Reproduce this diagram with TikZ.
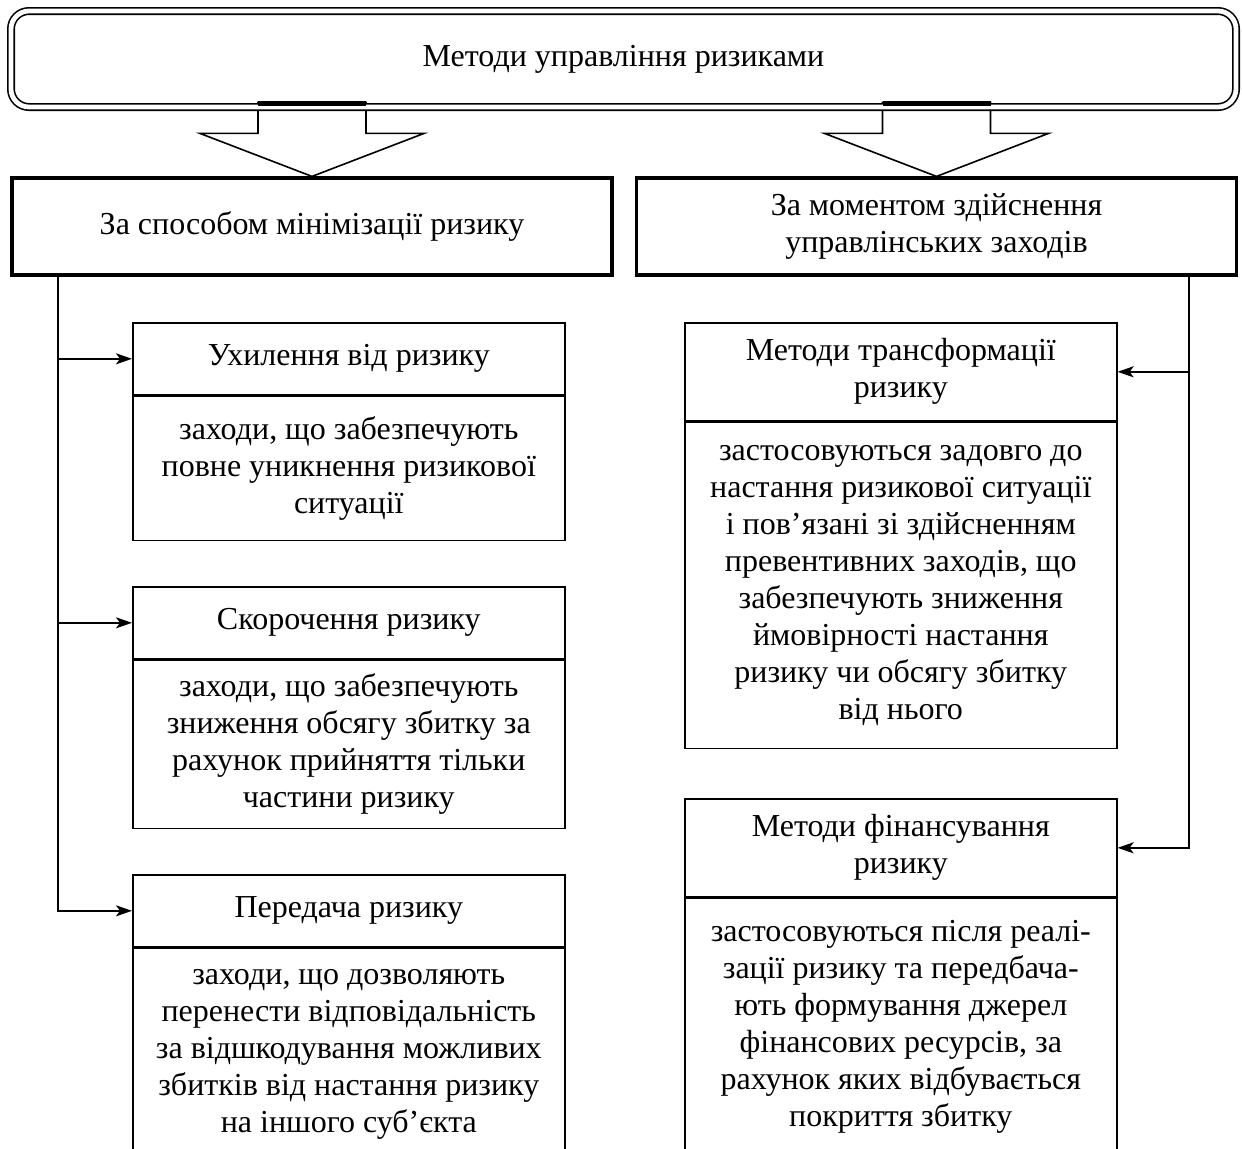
\documentclass[tikz,border=0pt]{standalone}
\usepackage{fontspec}
\setmainfont{Liberation Serif}
\usetikzlibrary{arrows.meta,calc}

\begin{document}
\begin{tikzpicture}[x=0.5pt,y=-0.5pt,
  font=\fontsize{16}{18.5}\selectfont,
  mainbox/.style={draw,double,double distance=2.4pt,line width=0.8pt,rounded corners=9pt,
                  minimum width=612.5pt,minimum height=48pt,inner sep=0pt},
  groupbox/.style={draw,line width=1.6pt,minimum width=300pt,minimum height=48.5pt,
                   align=center,inner sep=0pt},
  headbox/.style={draw,line width=0.8pt,minimum width=216pt,minimum height=#1,
                  align=center,inner sep=0pt,anchor=north west},
  bodybox/.style={draw,line width=0.8pt,text width=212pt,minimum height=#1,
                  align=flush center,inner xsep=2pt,inner ysep=0pt,anchor=north},
  blockarrow/.style={draw,fill=white,line width=0.8pt,line join=miter},
  link/.style={line width=1pt,-{Stealth[length=8pt,width=5.5pt,inset=2pt]}}
]
\useasboundingbox (0,0) rectangle (1242,1148);
\clip (0,0) rectangle (1242,1148);

\node[groupbox] (sposib) at (312,226.5) {За способом мінімізації ризику};
\node[groupbox] (moment) at (936.5,226.5) {За моментом здійснення\\управлінських заходів};

\draw[blockarrow] (sposib.north) -- ++(-112,-43) -- ++(58,0) -- ++(0,-31) -- ++(108,0)
                  -- ++(0,31) -- ++(58,0) -- cycle;
\draw[blockarrow] (moment.north) -- ++(-112,-43) -- ++(58,0) -- ++(0,-31) -- ++(108,0)
                  -- ++(0,31) -- ++(58,0) -- cycle;

\node[mainbox] (top) at (623.5,59) {Методи управління ризиками};
\fill ($(sposib.north)+(-54,-75)$) rectangle ++(108,5);
\fill ($(moment.north)+(-54,-75)$) rectangle ++(108,5);

\node[headbox=36pt] (uhyl) at (132,322) {Ухилення від ризику};
\node[bodybox=72pt] (uhylb) at (uhyl.south) {заходи, що забезпечують\\повне уникнення ризикової\\ситуації};
\node[headbox=36pt] (skor) at (132,586) {Скорочення ризику};
\node[bodybox=84pt] (skorb) at (skor.south) {заходи, що забезпечують\\зниження обсягу збитку за\\рахунок прийняття тільки\\частини ризику};
\node[headbox=36pt] (pered) at (132,874) {Передача ризику};
\node[bodybox=105.5pt] (peredb) at (pered.south) {заходи, що дозволяють\\перенести відповідальність\\за відшкодування можливих\\збитків від настання ризику\\на іншого суб’єкта};

\node[headbox=49pt] (transf) at (684,322) {Методи трансформації\\ризику};
\node[bodybox=163pt] (transfb) at (transf.south) {застосовуються задовго до\\настання ризикової ситуації\\і пов’язані зі здійсненням\\превентивних заходів, що\\забезпечують зниження\\ймовірності настання\\ризику чи обсягу збитку\\від нього};
\node[headbox=49pt] (finans) at (684,798) {Методи фінансування\\ризику};
\node[bodybox=128pt] (finansb) at (finans.south) {застосовуються після реалі-\\зації ризику та передбача-\\ють формування джерел\\фінансових ресурсів, за\\рахунок яких відбувається\\покриття збитку};

\coordinate (lbus) at ($(sposib.south west)+(48,0)$);
\draw[link] (lbus) |- (pered.west);
\draw[link] (lbus |- uhyl.west) -- (uhyl.west);
\draw[link] (lbus |- skor.west) -- (skor.west);

\coordinate (rbus) at ($(moment.south east)+(-49,0)$);
\draw[link] (rbus) |- (finans.east);
\draw[link] (rbus |- transf.east) -- (transf.east);
\end{tikzpicture}
\end{document}
